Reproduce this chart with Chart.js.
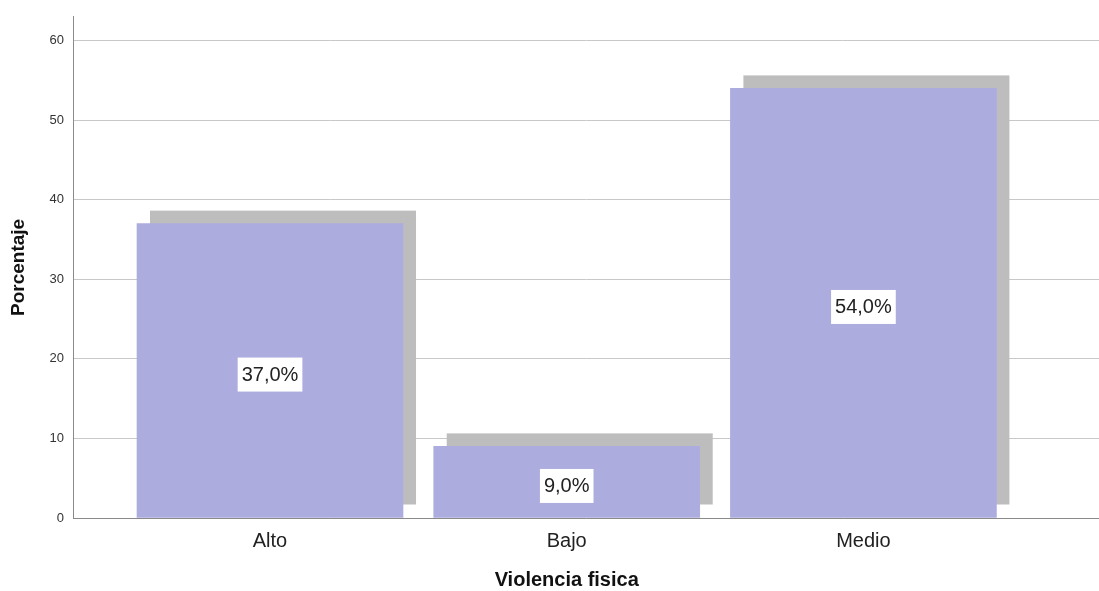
<!DOCTYPE html>
<html>
<head>
<meta charset="utf-8">
<script src="https://cdn.jsdelivr.net/npm/chart.js@4/dist/chart.umd.min.js"></script>
<style>
  html, body { margin: 0; padding: 0; background: #fff; }
  #wrap { width: 1099px; height: 591px; position: relative; }
</style>
</head>
<body>
<div id="wrap"><canvas id="grafico"></canvas></div>
<script>
const categorias = ["Alto", "Bajo", "Medio"];
const porcentajes = [37.0, 9.0, 54.0];
const posiciones = [1, 2, 3];
const yTicks = [0, 10, 20, 30, 40, 50, 60];
const tituloX = "Violencia fisica";

// sombra gris desplazada detras de cada barra
const sombraPlugin = {
  id: "sombra",
  beforeDatasetsDraw(chart) {
    const ctx = chart.ctx;
    const meta = chart.getDatasetMeta(0);
    ctx.save();
    ctx.fillStyle = "#bdbdbd";
    meta.data.forEach(bar => {
      const p = bar.getProps(["x", "y", "base", "width"], true);
      ctx.fillRect(p.x - p.width / 2 + 13, p.y - 13, p.width, p.base - p.y);
    });
    ctx.restore();
  }
};

// etiqueta con fondo blanco en el centro de la barra + titulo del eje x centrado en las barras
const etiquetasPlugin = {
  id: "etiquetas",
  afterDatasetsDraw(chart) {
    const ctx = chart.ctx;
    const meta = chart.getDatasetMeta(0);
    ctx.save();
    ctx.font = "20px 'Liberation Sans', Arial, sans-serif";
    ctx.textAlign = "center";
    ctx.textBaseline = "middle";
    meta.data.forEach((bar, i) => {
      const p = bar.getProps(["x", "y", "base"], true);
      const txt = porcentajes[i].toFixed(1).replace(".", ",") + "%";
      const cy = (p.y + p.base) / 2 + 4;
      const w = ctx.measureText(txt).width + 8;
      ctx.fillStyle = "#ffffff";
      ctx.fillRect(p.x - w / 2, cy - 17, w, 34);
      ctx.fillStyle = "#222";
      ctx.fillText(txt, p.x, cy + 1);
    });
    const xs = chart.scales.x;
    const medio = (xs.getPixelForValue(posiciones[0]) + xs.getPixelForValue(posiciones[posiciones.length - 1])) / 2;
    ctx.font = "bold 20px 'Liberation Sans', Arial, sans-serif";
    ctx.fillStyle = "#111";
    ctx.fillText(tituloX, medio, 580);
    ctx.restore();
  }
};

new Chart(document.getElementById("grafico"), {
  type: "bar",
  data: {
    datasets: [{
      label: "Porcentaje",
      data: posiciones.map((x, i) => ({ x: x, y: porcentajes[i] })),
      backgroundColor: "#acacdf",
      barThickness: 266
    }]
  },
  plugins: [sombraPlugin, etiquetasPlugin],
  options: {
    responsive: true,
    maintainAspectRatio: false,
    animation: false,
    layout: { padding: { top: 14, right: 0, left: 0, bottom: 0 } },
    plugins: { legend: { display: false }, tooltip: { enabled: false } },
    scales: {
      x: {
        type: "linear",
        offset: false,
        min: 0.336,
        max: 3.794,
        afterBuildTicks: s => { s.ticks = posiciones.map(v => ({ value: v })); },
        afterFit: s => { s.height = 73; },
        grid: { display: false, drawTicks: false, offset: false },
        border: { color: "#8a8a8a", width: 1 },
        ticks: {
          padding: 11,
          color: "#222",
          font: { family: "'Liberation Sans', Arial, sans-serif", size: 20 },
          callback: v => categorias[posiciones.indexOf(v)] || ""
        }
      },
      y: {
        min: 0,
        max: 63,
        afterBuildTicks: s => { s.ticks = yTicks.map(v => ({ value: v })); },
        afterFit: s => { s.width = 73; },
        grid: { color: "#c8c8c8", lineWidth: 1, drawTicks: false },
        border: { color: "#8a8a8a", width: 1 },
        ticks: {
          padding: 9,
          color: "#333",
          font: { family: "'Liberation Sans', Arial, sans-serif", size: 13 }
        },
        title: {
          display: true,
          text: "Porcentaje",
          color: "#111",
          padding: { top: 7, bottom: 4 },
          font: { family: "'Liberation Sans', Arial, sans-serif", size: 19, weight: "bold" }
        }
      }
    }
  }
});
</script>
</body>
</html>
